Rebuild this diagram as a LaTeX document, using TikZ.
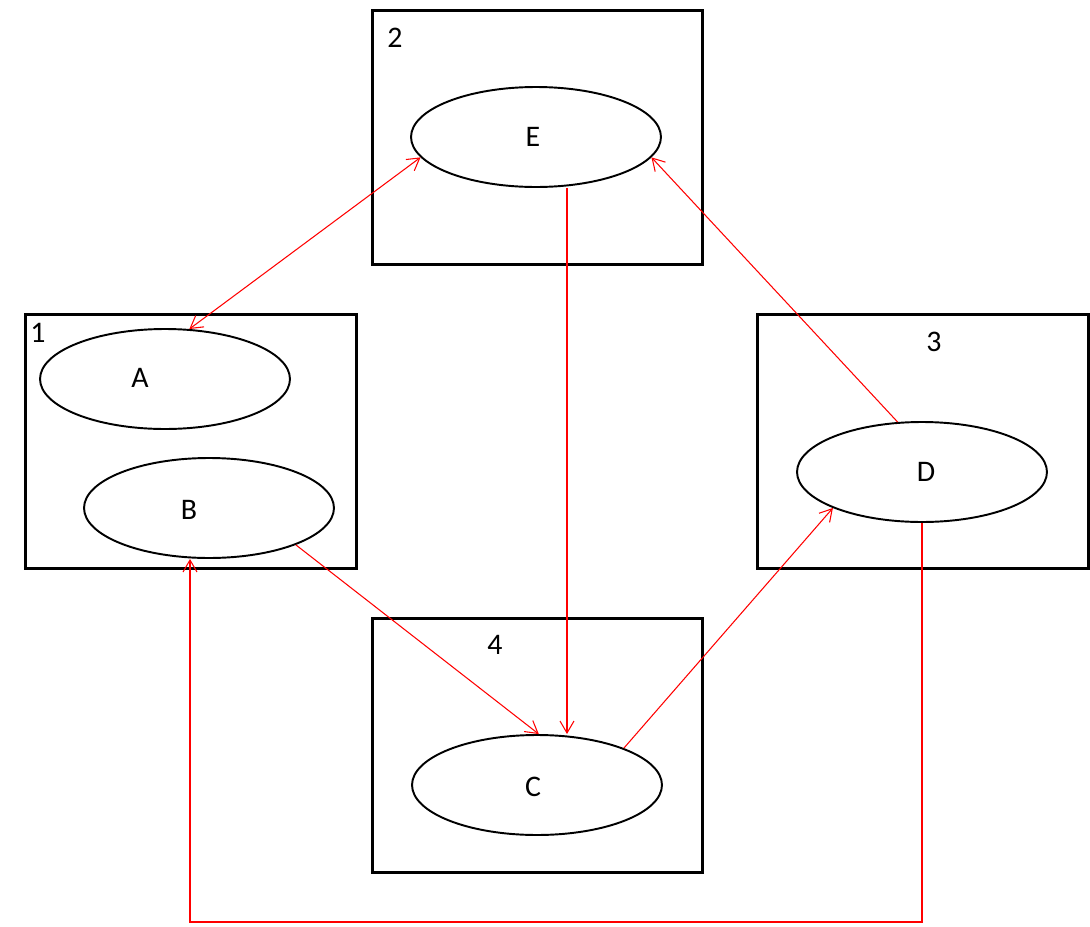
\documentclass[tikz,border=0pt]{standalone}
\usepackage{fontspec}
\setmainfont{Carlito}
\usepackage{tikz}
\usetikzlibrary{arrows.meta}
\usetikzlibrary{shapes.geometric}
\definecolor{linkred}{RGB}{255,0,0}
\newcommand{\drawlink}{\draw[linkred, line width=0.6pt, -{Straight Barb[length=2.4mm, width=2.8mm]}]}

\begin{document}
\begin{tikzpicture}[x=0.02cm, y=-0.02cm,
    every node/.style={font=\fontsize{17}{20}\selectfont},
    region/.style={draw, line width=1.7pt, minimum width=6.62cm, minimum height=5.1cm, inner sep=0pt},
    oval/.style={draw, ellipse, line width=1.1pt, minimum width=5cm, minimum height=2cm, inner sep=0pt}]
    \useasboundingbox (0,0) rectangle (1090,927);

    % Draw regions
    \node[region] (R1) at (191, 441.5) {};
    \node[region] (R2) at (537.5, 137.5) {};
    \node[region] (R3) at (923, 441.5) {};
    \node[region] (R4) at (537.5, 745.5) {};

    \node (n1) at (38, 333) {1};
    \node (n2) at (395, 38) {2};
    \node (n3) at (934, 342) {3};
    \node (n4) at (495, 645) {4};

    % Draw ellipses
    \node[oval] (A) at (165, 379) {};
    \node[oval] (B) at (209, 508) {};
    \node[oval] (C) at (537, 785) {};
    \node[oval] (D) at (922, 472) {};
    \node[oval] (E) at (536, 137) {};

    \node (tA) at (140, 378) {A};
    \node (tB) at (189, 510) {B};
    \node (tC) at (533, 787) {C};
    \node (tD) at (926, 472) {D};
    \node (tE) at (533, 137) {E};

    % Draw links
    \coordinate (bot) at (0, 922);
    \drawlink[{Straight Barb[length=2.4mm, width=2.8mm]}-{Straight Barb[length=2.4mm, width=2.8mm]}] (A.64) -- (E.190);
    \drawlink ([xshift=0.62cm]E.south) -- ([xshift=0.62cm]E.south |- C.north);
    \drawlink (D.116) -- (E.350);
    \drawlink (B.337) -- (C.88);
    \drawlink (C.23) -- (D.202);
    \drawlink (D.south) -- (D.south |- bot) -| ([xshift=-0.38cm]B.south);
\end{tikzpicture}
\end{document}
